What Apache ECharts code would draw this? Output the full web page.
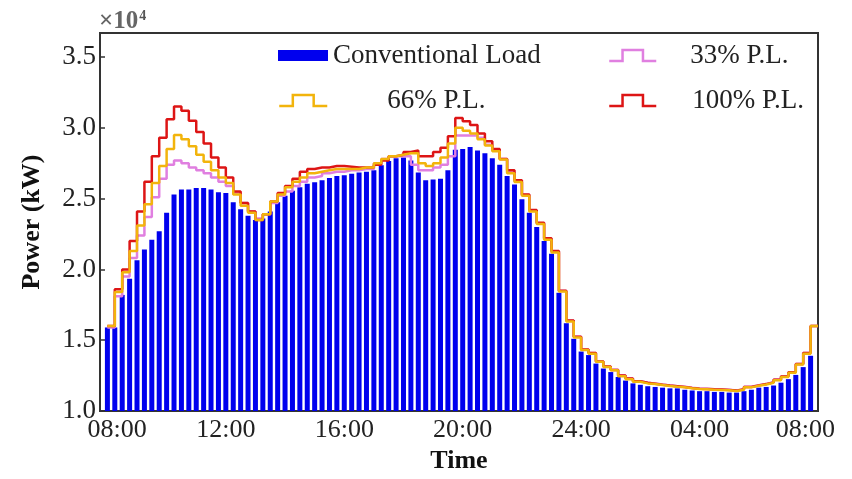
<!DOCTYPE html>
<html>
<head>
<meta charset="utf-8">
<script src="https://cdn.jsdelivr.net/npm/echarts@6/dist/echarts.min.js"></script>
<style>html,body{margin:0;padding:0;background:#fff}#c{width:852px;height:479px}</style>
</head>
<body>
<div id="c"></div>
<script>
// x positions: one bar per 15 min, 08:00 -> 08:00 next day (96 slots)
const tickLabels = ["08:00","12:00","16:00","20:00","24:00","04:00","08:00"];
const tickPositions = [1.3, 16, 32, 48, 64, 80, 94.3];

// Conventional load (x10^4 kW), one value per 15-min slot
const conventional = [
 1.59,1.59,1.82,1.935,2.065,2.14,2.21,2.27,2.40,2.53,
 2.565,2.565,2.575,2.575,2.565,2.545,2.54,2.475,2.425,2.38,
 2.35,2.36,2.41,2.475,2.52,2.555,2.58,2.605,2.615,2.63,
 2.645,2.66,2.665,2.675,2.685,2.69,2.70,2.735,2.765,2.785,
 2.79,2.77,2.685,2.63,2.635,2.64,2.70,2.845,2.85,2.865,
 2.84,2.82,2.785,2.74,2.66,2.60,2.495,2.40,2.30,2.20,
 2.11,1.835,1.62,1.51,1.42,1.395,1.335,1.30,1.275,1.24,
 1.215,1.195,1.185,1.175,1.17,1.165,1.16,1.16,1.15,1.145,
 1.14,1.14,1.135,1.135,1.13,1.13,1.14,1.15,1.165,1.17,
 1.18,1.20,1.225,1.255,1.31,1.39
];

// Stair lines (97 step levels)
const pl33 = [
 1.59,1.81,1.95,2.08,2.24,2.37,2.51,2.64,2.74,2.77,
 2.75,2.72,2.70,2.68,2.65,2.62,2.59,2.54,2.47,2.41,
 2.36,2.39,2.47,2.52,2.55,2.59,2.62,2.65,2.66,2.68,
 2.69,2.69,2.70,2.70,2.71,2.71,2.75,2.78,2.80,2.80,
 2.80,2.74,2.70,2.70,2.72,2.74,2.80,2.946,2.946,2.946,
 2.93,2.88,2.84,2.78,2.685,2.62,2.525,2.415,2.325,2.215,
 2.125,1.848,1.637,1.524,1.434,1.409,1.351,1.314,1.292,1.25,
 1.229,1.21,1.199,1.194,1.187,1.18,1.175,1.171,1.164,1.159,
 1.157,1.154,1.152,1.15,1.145,1.154,1.171,1.182,1.191,1.203,
 1.222,1.245,1.274,1.332,1.409,1.6,1.6
];
const pl66 = [
 1.60,1.84,1.98,2.13,2.31,2.46,2.61,2.73,2.85,2.95,
 2.92,2.87,2.81,2.76,2.70,2.65,2.61,2.53,2.45,2.40,
 2.35,2.39,2.48,2.53,2.58,2.62,2.65,2.68,2.69,2.70,
 2.71,2.71,2.71,2.71,2.72,2.72,2.75,2.78,2.80,2.81,
 2.82,2.82,2.75,2.73,2.75,2.79,2.89,3.00,2.98,2.96,
 2.92,2.876,2.835,2.777,2.68,2.617,2.52,2.41,2.32,2.21,
 2.12,1.844,1.633,1.52,1.43,1.405,1.347,1.31,1.288,1.246,
 1.225,1.206,1.195,1.19,1.183,1.176,1.171,1.167,1.16,1.155,
 1.153,1.15,1.148,1.146,1.141,1.15,1.167,1.178,1.187,1.199,
 1.218,1.241,1.27,1.328,1.405,1.6,1.6
];
const pl100 = [
 1.60,1.86,2.00,2.20,2.41,2.62,2.80,2.93,3.06,3.15,
 3.12,3.05,2.97,2.89,2.79,2.72,2.65,2.55,2.47,2.41,
 2.35,2.39,2.48,2.54,2.59,2.64,2.69,2.71,2.72,2.72,
 2.73,2.73,2.725,2.72,2.72,2.72,2.74,2.77,2.80,2.81,
 2.83,2.84,2.80,2.80,2.83,2.86,2.94,3.07,3.046,3.02,
 2.96,2.906,2.85,2.78,2.70,2.63,2.53,2.42,2.33,2.22,
 2.13,1.85,1.64,1.525,1.435,1.41,1.35,1.315,1.29,1.25,
 1.23,1.21,1.2,1.193,1.186,1.18,1.175,1.17,1.163,1.158,
 1.156,1.153,1.151,1.149,1.144,1.153,1.17,1.181,1.19,1.202,
 1.221,1.244,1.274,1.332,1.41,1.6,1.6
];

const seriesNames = ["Conventional Load","33% P.L.","66% P.L.","100% P.L."];
const colors = {bar:"#0000ee", p33:"#e07fe0", p66:"#f2b40c", p100:"#dd1515"};

const FONT = "Liberation Serif";
const stepIcon = "path://M0,10L13,10L13,0L33,0L33,10L46,10";

function legendFor(name, icon, color, left, top, w, pad, stroke) {
  const item = {name: name, icon: icon};
  if (stroke) item.itemStyle = {color: "transparent", borderColor: color, borderWidth: 2.5};
  return {
    data: [item], left: left, top: top, padding: 0, selectedMode: false,
    itemWidth: w, itemHeight: 11, symbolKeepAspect: false,
    textStyle: {fontFamily: FONT, fontSize: 27, color: "#222", padding: [0,0,0,pad]}
  };
}

const chart = echarts.init(document.getElementById("c"), null, {renderer: "canvas"});
chart.setOption({
  animation: false,
  backgroundColor: "#fff",
  title: {
    text: "{a|\u00d710}{b|4}", left: 94, top: 4,
    textStyle: {rich: {
      a: {fontFamily: FONT, fontSize: 25, color: "#666", verticalAlign: "bottom"},
      b: {fontFamily: FONT, fontSize: 14, color: "#555", verticalAlign: "top", padding: [0,0,11,1]}
    }}
  },
  legend: [
    legendFor(seriesNames[0], "rect", colors.bar, 278, 42, 50, 0, false),
    legendFor(seriesNames[1], stepIcon, colors.p33, 608, 42, 47, 29, true),
    legendFor(seriesNames[2], stepIcon, colors.p66, 278, 87, 48, 55, true),
    legendFor(seriesNames[3], stepIcon, colors.p100, 608, 87, 47, 31, true)
  ],
  grid: {left: 100, right: 34, top: 33, bottom: 63, show: true, borderColor: "#333", borderWidth: 2, containLabel: false},
  xAxis: {
    type: "value", min: -1, max: 96,
    name: "Time", nameLocation: "middle", nameGap: 37,
    nameTextStyle: {fontFamily: FONT, fontSize: 26, fontWeight: "bold", color: "#111"},
    axisLine: {show: true, onZero: false, lineStyle: {color: "#333", width: 2}},
    axisTick: {show: false},
    splitLine: {show: false},
    axisLabel: {
      customValues: tickPositions,
      formatter: function (v) { return tickLabels[Math.round(v / 16)]; },
      fontFamily: FONT, fontSize: 26, color: "#222", margin: 6
    }
  },
  yAxis: {
    type: "value", min: 1.0, max: 3.67, interval: 0.5,
    name: "Power (kW)", nameLocation: "middle", nameGap: 55,
    nameTextStyle: {fontFamily: FONT, fontSize: 26, fontWeight: "bold", color: "#111"},
    axisLine: {show: true, onZero: false, lineStyle: {color: "#333", width: 2}},
    axisTick: {show: true, inside: true, length: 5, lineStyle: {color: "#333", width: 1.5}},
    splitLine: {show: false},
    axisLabel: {
      showMaxLabel: false,
      formatter: function (v) { return v.toFixed(1); },
      fontFamily: FONT, fontSize: 27, color: "#222", margin: 4
    }
  },
  series: [
    {name: seriesNames[0], type: "bar", barWidth: 5, itemStyle: {color: colors.bar},
     data: conventional.map((v, i) => [i, v])},
    {name: seriesNames[1], type: "line", step: "end", symbol: "none", showSymbol: false,
     lineStyle: {color: colors.p33, width: 2.5}, itemStyle: {color: colors.p33},
     data: pl33.map((v, i) => [i, v])},
    {name: seriesNames[3], type: "line", step: "end", symbol: "none", showSymbol: false,
     lineStyle: {color: colors.p100, width: 2.5}, itemStyle: {color: colors.p100},
     data: pl100.map((v, i) => [i, v])},
    {name: seriesNames[2], type: "line", step: "end", symbol: "none", showSymbol: false,
     lineStyle: {color: colors.p66, width: 2.5}, itemStyle: {color: colors.p66},
     data: pl66.map((v, i) => [i, v])}
  ]
});
</script>
</body>
</html>
